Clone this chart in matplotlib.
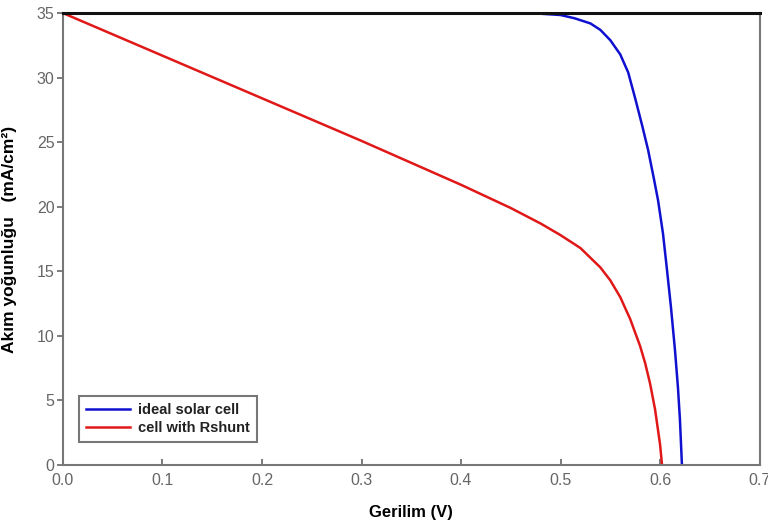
import matplotlib.pyplot as plt

plt.rcParams['font.family'] = ['Liberation Sans', 'DejaVu Sans']

# ideal solar cell (V, mA/cm2)
v_ideal = [0.0, 0.30, 0.45, 0.48, 0.50, 0.514, 0.53, 0.54, 0.55, 0.56, 0.568, 0.575,
           0.582, 0.588, 0.594, 0.598, 0.603, 0.607, 0.611, 0.615, 0.618, 0.620, 0.622]
j_ideal = [35.0, 35.0, 35.0, 34.95, 34.85, 34.6, 34.2, 33.7, 32.9, 31.8, 30.4, 28.4,
           26.3, 24.4, 22.1, 20.5, 17.9, 15.1, 12.2, 8.9, 6.0, 3.5, 0.0]

# cell with Rshunt
v_shunt = [0.0, 0.1, 0.2, 0.3, 0.4, 0.45, 0.48, 0.50, 0.52, 0.54, 0.55, 0.56,
           0.57, 0.58, 0.585, 0.59, 0.595, 0.60, 0.602]
j_shunt = [35.0, 31.7, 28.4, 25.1, 21.7, 19.9, 18.7, 17.8, 16.8, 15.3, 14.3, 13.0,
           11.3, 9.2, 7.9, 6.3, 4.3, 1.6, 0.0]

fig = plt.figure(figsize=(7.68, 5.23), dpi=100)
ax = fig.add_axes([0.082, 0.111, 0.907, 0.864])

ax.plot(v_ideal, j_ideal, color='#1010d0', lw=1.8, label='ideal solar cell')
ax.plot(v_shunt, j_shunt, color='#e01818', lw=1.8, label='cell with Rshunt')

ax.set_xlim(0, 0.7)
ax.set_ylim(0, 35)
ax.set_xticks([0.0, 0.1, 0.2, 0.3, 0.4, 0.5, 0.6, 0.7])
ax.set_yticks([0, 5, 10, 15, 20, 25, 30, 35])
ax.tick_params(colors='#666666', labelsize=11.5, length=4, width=1.2)
ax.tick_params(axis='x', direction='in', pad=6)
ax.tick_params(axis='y', direction='out', pad=2)

for s in ['left', 'bottom', 'right']:
    ax.spines[s].set_color('#777777')
    ax.spines[s].set_linewidth(1.5)
ax.spines['top'].set_color('#111111')
ax.spines['top'].set_linewidth(2.2)

ax.set_xlabel('Gerilim (V)', fontweight='bold', fontsize=12, labelpad=12)
ax.set_ylabel('Akım yoğunluğu   (mA/cm²)', fontweight='bold', fontsize=12.5, labelpad=14)

leg = ax.legend(loc='lower left', bbox_to_anchor=(0.013, 0.035), fontsize=10.5,
                frameon=True, fancybox=False, handlelength=3.0, borderpad=0.45,
                labelspacing=0.3, handletextpad=0.6)
leg.get_frame().set_edgecolor('#555555')
leg.get_frame().set_linewidth(1.5)
for t in leg.get_texts():
    t.set_color('#222222')
    t.set_fontweight('bold')

fig.savefig('out.png', dpi=100)
